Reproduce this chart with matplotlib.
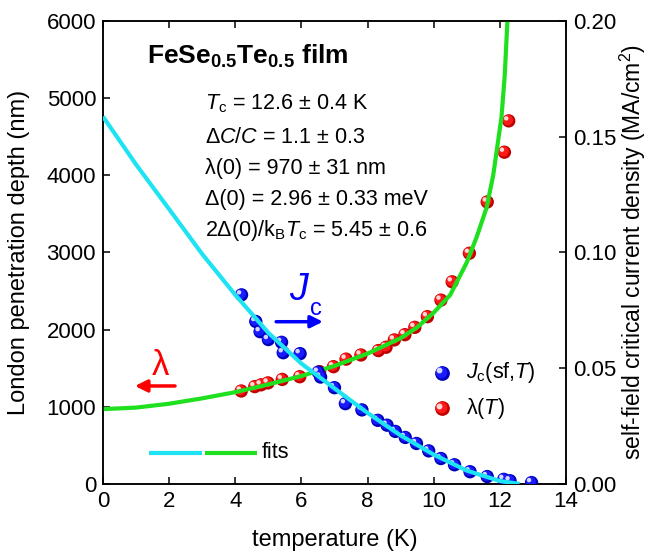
import matplotlib
matplotlib.use("Agg")
import matplotlib.pyplot as plt
from matplotlib.transforms import offset_copy

plt.rcParams['font.family'] = ['Liberation Sans', 'DejaVu Sans']
plt.rcParams['mathtext.fontset'] = 'custom'
plt.rcParams['mathtext.rm'] = 'Liberation Sans'
plt.rcParams['mathtext.it'] = 'Liberation Sans:italic'
plt.rcParams['mathtext.bf'] = 'Liberation Sans:bold'

# ---- data ----
T_jc = [4.19, 4.62, 4.75, 5.00, 5.40, 5.45, 5.96, 6.51, 6.58, 7.00, 7.33, 7.83, 8.31,
        8.59, 8.84, 9.14, 9.48, 9.85, 10.22, 10.63, 11.10, 11.62, 12.12, 12.31, 12.96]
jc_vals = [0.0817, 0.0702, 0.0658, 0.0624, 0.0612, 0.0567, 0.0563, 0.0483, 0.0462, 0.0416,
           0.0347, 0.0320, 0.0275, 0.0254, 0.0227, 0.0201, 0.0175, 0.0143, 0.0110, 0.0083,
           0.0053, 0.0032, 0.0020, 0.0014, 0.0006]

T_lam = [4.18, 4.59, 4.78, 4.99, 5.42, 5.95, 6.55, 6.97, 7.35, 7.80, 8.33, 8.56, 8.81,
         9.13, 9.43, 9.81, 10.22, 10.56, 11.08, 11.62, 12.14, 12.27]
lam_vals = [1205, 1262, 1285, 1310, 1355, 1390, 1456, 1520, 1618, 1672, 1729, 1772, 1867,
            1935, 2030, 2168, 2383, 2620, 2990, 3655, 4300, 4706]

T_lam_fit = [0, 1, 2, 3, 4, 5, 6, 7, 8, 9, 9.5, 10, 10.5, 11, 11.3, 11.6, 11.8,
             11.95, 12.05, 12.15, 12.23]
lam_fit = [970, 990, 1040, 1110, 1190, 1290, 1400, 1530, 1690, 1890, 2030, 2220, 2450,
           2870, 3200, 3580, 4000, 4450, 4750, 5300, 6000]

T_jc_fit = [0, 1, 2, 3, 4, 5, 6, 7, 8, 9, 10, 11, 12, 12.6]
jc_fit = [0.1587, 0.1380, 0.1187, 0.0993, 0.0817, 0.0653, 0.0520, 0.0413, 0.0307,
          0.0210, 0.0127, 0.0058, 0.0013, 0.0]

x_ticks = [0, 2, 4, 6, 8, 10, 12, 14]
y_ticks = [0, 1000, 2000, 3000, 4000, 5000, 6000]
y2_ticks = [0.00, 0.05, 0.10, 0.15, 0.20]

CYAN = '#1ee3f2'
GREEN = '#1fe01f'

fig = plt.figure(figsize=(6.52, 5.53), dpi=100)
ax = fig.add_axes([0.158, 0.1248, 0.710, 0.8372])
ax2 = ax.twinx()


def balls(a, x, y, base, mid, hi):
    a.scatter(x, y, s=9.6**2, color=base, edgecolors='none', zorder=3)
    t1 = offset_copy(a.transData, fig=fig, x=-0.6, y=0.6, units='points')
    a.scatter(x, y, s=7.4**2, color=mid, edgecolors='none', zorder=3, transform=t1)
    t2 = offset_copy(a.transData, fig=fig, x=-1.8, y=1.8, units='points')
    a.scatter(x, y, s=3.2**2, color=hi, edgecolors='none', zorder=3, transform=t2)


balls(ax, T_lam, lam_vals, '#c00000', '#ff1a1a', '#ffd8d8')
ax.plot(T_lam_fit, lam_fit, color=GREEN, lw=3.0, zorder=4, solid_capstyle='butt')
balls(ax2, T_jc, jc_vals, '#0000b8', '#1a1aff', '#d8d8ff')
ax2.plot(T_jc_fit, jc_fit, color=CYAN, lw=3.0, zorder=4, solid_capstyle='butt')

ax.set_xlim(0, 14)
ax.set_ylim(0, 6000)
ax2.set_ylim(0, 0.2)
ax.set_xticks(x_ticks)
ax.set_yticks(y_ticks)
ax2.set_yticks(y2_ticks)
ax2.set_yticklabels([f"{v:.2f}" for v in y2_ticks])

for a in (ax, ax2):
    for s in a.spines.values():
        s.set_linewidth(1.1)
ax.tick_params(direction='in', length=5, width=1.1, labelsize=16, top=True, pad=5)
ax2.tick_params(direction='in', length=5, width=1.1, labelsize=16, pad=5)

ax.set_xlabel('temperature (K)', fontsize=17)
ax.set_ylabel('London penetration depth (nm)', fontsize=17)
ax2.set_ylabel('self-field critical current density (MA/cm$^2$)', fontsize=16.5)
ax.xaxis.set_label_coords(0.5, -0.097)
ax.yaxis.set_label_coords(-0.158, 0.5)
ax2.yaxis.set_label_coords(1.112, 0.5)

tr = ax.transAxes
ax.text(0.095, 0.9086, r'$\mathbf{FeSe_{0.5}Te_{0.5}}$ film', transform=tr, fontsize=19,
        fontweight='bold', va='baseline', ha='left')
lines = [r'$T_{\rm c}$ = 12.6 ± 0.4 K',
         r'Δ$C$/$C$ = 1.1 ± 0.3',
         'λ(0) = 970 ± 31 nm',
         'Δ(0) = 2.96 ± 0.33 meV',
         r'2Δ(0)/k$_{\rm B}$$T_{\rm c}$ = 5.45 ± 0.6']
ys = [0.810, 0.7365, 0.6695, 0.6026, 0.5356]
for s_, y_ in zip(lines, ys):
    ax.text(0.220, y_, s_, transform=tr, fontsize=15.5, va='baseline', ha='left')

# lambda / Jc annotations
ax.text(0.123, 0.257, 'λ', transform=tr, fontsize=25, color='#ff0000', ha='center', va='center')
ax.annotate('', xy=(0.069, 0.2117), xytext=(0.1555, 0.2117), xycoords=tr, textcoords=tr,
            arrowprops=dict(arrowstyle='-|>', lw=2.5, color='#ff0000', mutation_scale=18,
                            shrinkA=0, shrinkB=0))
ax.text(0.4246, 0.419, r'$J$', transform=tr, fontsize=27, color='#0000ff', ha='center', va='center')
ax.text(0.460, 0.378, 'c', transform=tr, fontsize=17, color='#0000ff', ha='center', va='center')
ax.annotate('', xy=(0.475, 0.3505), xytext=(0.374, 0.3505), xycoords=tr, textcoords=tr,
            arrowprops=dict(arrowstyle='-|>', lw=2.5, color='#0000ff', mutation_scale=18,
                            shrinkA=0, shrinkB=0))

# legend (manual)
def leg_ball(x, y, base, mid, hi):
    ax.scatter([x], [y], s=9.6**2, color=base, transform=tr, zorder=5, clip_on=False)
    t1 = offset_copy(tr, fig=fig, x=-0.6, y=0.6, units='points')
    ax.scatter([x], [y], s=7.4**2, color=mid, transform=t1, zorder=5, clip_on=False)
    t2 = offset_copy(tr, fig=fig, x=-1.8, y=1.8, units='points')
    ax.scatter([x], [y], s=3.2**2, color=hi, transform=t2, zorder=5, clip_on=False)

leg_ball(0.7315, 0.2404, '#0000b8', '#1a1aff', '#d8d8ff')
leg_ball(0.7315, 0.1635, '#c00000', '#ff1a1a', '#ffd8d8')
ax.text(0.784, 0.2404, r'$J_{\rm c}$(sf,$T$)', transform=tr, fontsize=15.5, va='center', ha='left')
ax.text(0.784, 0.1635, r'λ($T$)', transform=tr, fontsize=15.5, va='center', ha='left')

ax.plot([0.099, 0.213], [0.0676, 0.0676], transform=tr, color=CYAN, lw=3.0, solid_capstyle='butt')
ax.plot([0.220, 0.333], [0.0676, 0.0676], transform=tr, color=GREEN, lw=3.0, solid_capstyle='butt')
ax.text(0.343, 0.0676, 'fits', transform=tr, fontsize=15.5, va='center', ha='left')

fig.savefig('out.png', dpi=100)
